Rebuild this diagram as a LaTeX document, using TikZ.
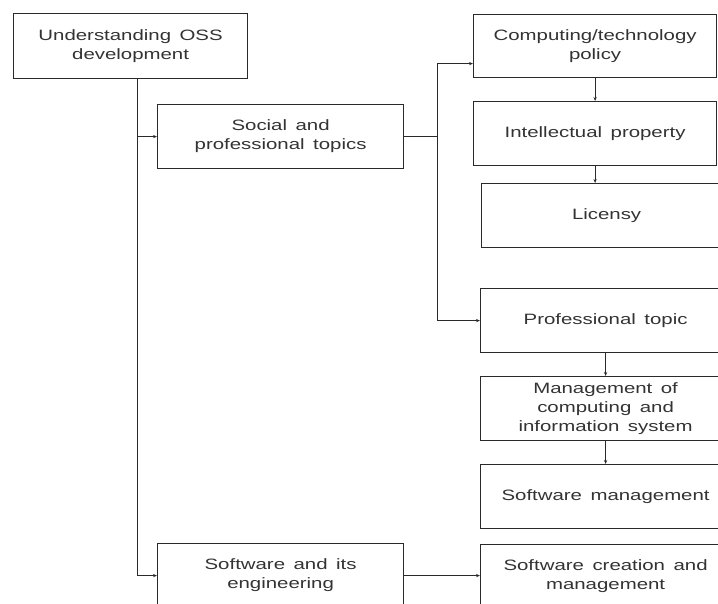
\documentclass[tikz,border=0pt]{standalone}
\usepackage{fontspec}
\setmainfont{Liberation Sans}[FakeStretch=1.36,WordSpace=1.5]
\usetikzlibrary{arrows.meta}
\definecolor{ink}{HTML}{2A2A2A}
\definecolor{txt}{HTML}{333333}
\tikzset{
  box/.style={draw=ink, line width=1.2pt, anchor=north west, align=center,
    text=txt, font=\fontsize{15}{19}\selectfont, inner sep=0pt},
  conn/.style={draw=ink, line width=0.8pt},
  arr/.style={conn, -{Stealth[length=4pt,width=3.2pt]}}
}
\begin{document}
\begin{tikzpicture}[x=1pt,y=-1pt]
\useasboundingbox (0,0) rectangle (718,603);
\fill[white] (0,0) rectangle (718,603);
\begin{scope}
\clip (0,0) rectangle (718,603);
\node[box, minimum width=234pt, minimum height=65pt] (u) at (13,13) {Understanding OSS\\development};
\node[box, minimum width=246pt, minimum height=64pt] (s) at (157,104) {Social and\\professional topics};
\node[box, minimum width=246pt, minimum height=64pt] (e) at (157,543) {Software and its\\engineering};
\node[box, minimum width=243pt, minimum height=63pt] (c) at (473,14) {Computing/technology\\policy};
\node[box, minimum width=243pt, minimum height=64pt] (ip) at (473,101) {Intellectual property};
\node[box, minimum width=250pt, minimum height=64pt] (l) at (481,183) {Licensy};
\node[box, minimum width=250pt, minimum height=64pt] (p) at (480,288) {Professional topic};
\node[box, minimum width=250pt, minimum height=64pt] (m) at (480,376) {Management of\\computing and\\information system};
\node[box, minimum width=250pt, minimum height=64pt] (sm) at (480,464) {Software management};
\node[box, minimum width=250pt, minimum height=64pt] (sc) at (480,544) {Software creation and\\management};
\end{scope}
\coordinate (t) at ([xshift=7pt]u.south);
\coordinate (b) at (437,0);
\draw[arr] (t) |- (e.west);
\draw[arr] (t |- s.west) -- (s.west);
\draw[conn] (s.east) -- (b |- s.east);
\draw[arr] (b |- s.east) |- ([yshift=-17.5pt]c.west);
\draw[arr] (b |- s.east) |- (p.west);
\draw[arr] (c.south) -- (ip.north);
\draw[arr] (ip.south) -- (ip.south |- l.north);
\draw[arr] (p.south) -- (p.south |- m.north);
\draw[arr] (m.south) -- (m.south |- sm.north);
\draw[arr] (e.east) -- (e.east -| sc.west);
\end{tikzpicture}
\end{document}
